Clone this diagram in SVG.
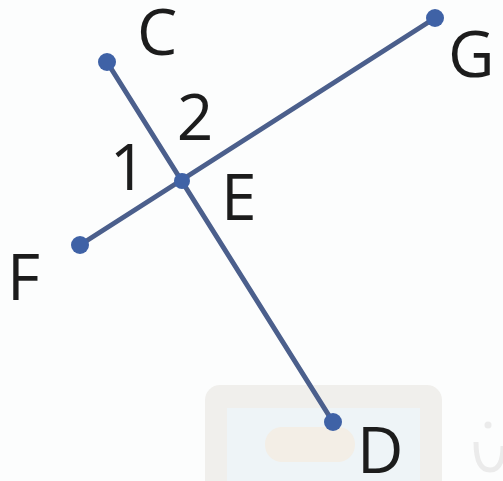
<svg xmlns="http://www.w3.org/2000/svg" width="503" height="481" viewBox="0 0 503 481">
  <style>
    .lbl { font-family: "Open Sans", "Noto Sans", "DejaVu Sans", sans-serif; font-size: 64px; fill: #1c1c1c; }
    .seg { stroke: #4b5f8c; stroke-width: 5; stroke-linecap: round; fill: none; }
    .dot { fill: #3f62a6; }
  </style>
  <rect width="503" height="481" fill="#fcfdfd"/>
  <!-- faint watermark -->
  <g id="watermark">
    <rect x="205" y="385" width="237" height="110" rx="15" fill="#f0efec"/>
    <rect x="227" y="408" width="193" height="80" fill="#eef4f7"/>
    <rect x="265" y="427" width="90" height="35" rx="17" fill="#f3eee6"/>
    <path d="M 476 442 Q 476 470 490 470 Q 503 470 503 446" fill="none" stroke="#ebebeb" stroke-width="5"/>
    <circle cx="488" cy="425" r="3.5" fill="#ebebeb"/>
  </g>
  <g id="connectors">
    <line class="seg" x1="107" y1="62" x2="333" y2="422"/>
    <line class="seg" x1="80" y1="245" x2="435" y2="18"/>
  </g>
  <g id="C"><circle class="dot" cx="107" cy="62" r="9"/><text class="lbl" x="137" y="55">C</text></g>
  <g id="D"><circle class="dot" cx="333" cy="422" r="9"/><text class="lbl" x="357" y="473">D</text></g>
  <g id="G"><circle class="dot" cx="435" cy="18" r="9"/><text class="lbl" x="448" y="77">G</text></g>
  <g id="F"><circle class="dot" cx="80" cy="245" r="9"/><text class="lbl" x="7" y="300">F</text></g>
  <g id="E"><circle class="dot" cx="182" cy="181" r="8"/><text class="lbl" x="221" y="220">E</text></g>
  <g id="angle1"><text class="lbl" x="128" y="190" text-anchor="middle">1</text></g>
  <g id="angle2"><text class="lbl" x="195" y="140" text-anchor="middle">2</text></g>
</svg>
